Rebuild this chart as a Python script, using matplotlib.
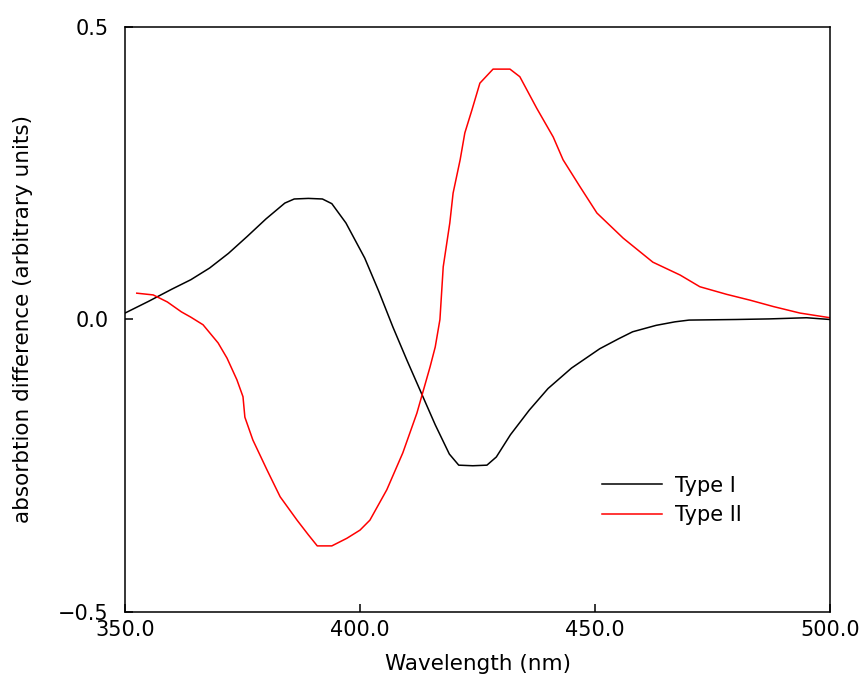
import numpy as np
import matplotlib.pyplot as plt

plt.rcParams['font.family'] = ['DejaVu Sans']

# Type I spectrum (wavelength nm, absorbance difference)
wl_1 = [350, 355, 360, 364, 368, 372, 376, 380, 384, 386, 389, 392, 394, 397,
        399, 401, 404, 407, 410, 413, 416, 419, 421, 424, 427, 429, 432, 436,
        440, 445, 451, 455, 458, 463, 467, 470, 480, 487, 495, 500]
abs_1 = [0.011, 0.031, 0.052, 0.068, 0.088, 0.113, 0.142, 0.172, 0.199, 0.206,
         0.207, 0.206, 0.198, 0.165, 0.135, 0.105, 0.048, -0.013, -0.07, -0.125,
         -0.18, -0.23, -0.249, -0.25, -0.249, -0.235, -0.197, -0.155, -0.118,
         -0.083, -0.05, -0.033, -0.021, -0.01, -0.004, -0.001, 0.0, 0.001,
         0.003, 0.0]

# Type II spectrum
wl_2 = [352.5, 356, 359, 362, 364, 366.6, 369.8, 371.7, 373.8, 375.1, 375.5,
        377.2, 380.2, 383, 386.6, 389, 390.9, 394, 397.2, 400, 402.1, 405.7,
        409.1, 412.1, 414.9, 416, 417, 417.7, 419.1, 419.8, 421.3, 422.3, 423.8,
        425.5, 428.3, 431.9, 434, 437.6, 441.1, 443.2, 446.8, 450.4, 456, 462.3,
        468.1, 472.3, 478, 483, 488, 493.6, 500]
abs_2 = [0.045, 0.042, 0.03, 0.013, 0.004, -0.009, -0.04, -0.066, -0.103,
         -0.132, -0.167, -0.206, -0.257, -0.303, -0.343, -0.368, -0.387, -0.387,
         -0.374, -0.36, -0.343, -0.291, -0.228, -0.16, -0.081, -0.047, 0.0, 0.09,
         0.165, 0.216, 0.273, 0.319, 0.358, 0.404, 0.428, 0.428, 0.415, 0.361,
         0.312, 0.273, 0.227, 0.182, 0.139, 0.098, 0.076, 0.056, 0.043, 0.033,
         0.022, 0.011, 0.003]

x_ticks = [350, 400, 450, 500]
y_ticks = [-0.5, 0.0, 0.5]

fig = plt.figure(figsize=(8.64, 6.80), dpi=100)
ax = fig.add_axes([0.1447, 0.1, 0.816, 0.8603])

ax.plot(wl_1, abs_1, color='black', lw=1.1, label='Type I')
ax.plot(wl_2, abs_2, color='#ff0000', lw=1.1, label='Type II')

ax.set_xlim(350, 500)
ax.set_ylim(-0.5, 0.5)
ax.set_xticks(x_ticks)
ax.set_xticklabels(['%.1f' % v for v in x_ticks])
ax.set_yticks(y_ticks)
ax.set_yticklabels(['\u22120.5', '0.0', '0.5'])
ax.tick_params(direction='in', length=6, width=1.1, labelsize=15)
ax.tick_params(axis='x', pad=6)
ax.tick_params(axis='y', pad=12)
for s in ax.spines.values():
    s.set_linewidth(1.1)

ax.set_xlabel('Wavelength (nm)', fontsize=15.5, labelpad=10)
ax.set_ylabel('absorbtion difference (arbitrary units)', fontsize=15.5,
              labelpad=18)

ax.legend(loc='upper left', bbox_to_anchor=(0.65, 0.265), frameon=False,
          fontsize=15, handlelength=2.9, handletextpad=0.6, labelspacing=0.45)

fig.savefig('out.png', dpi=100)
